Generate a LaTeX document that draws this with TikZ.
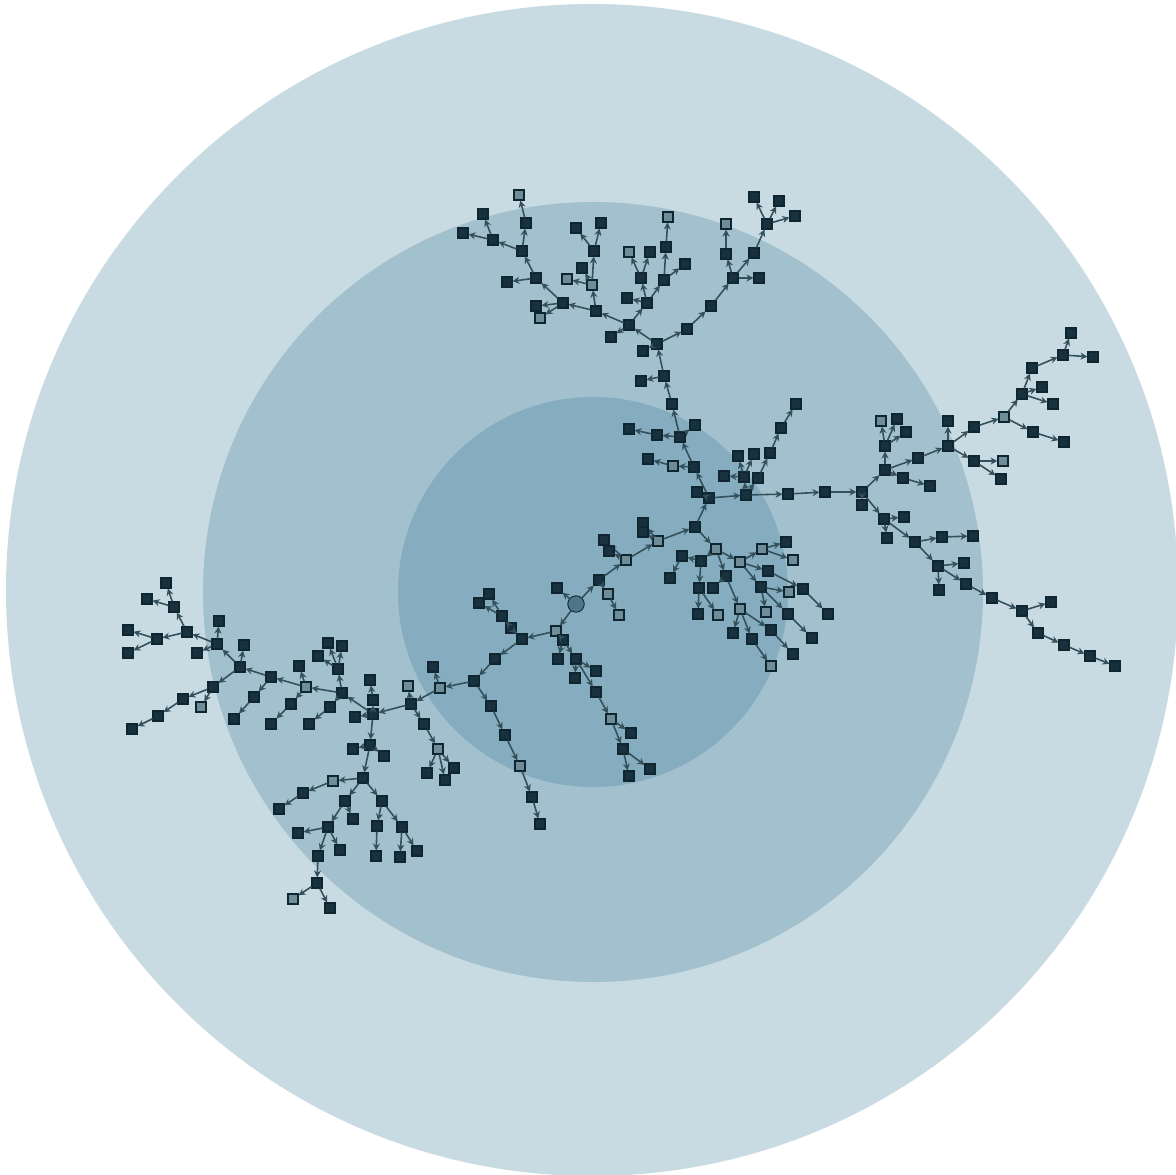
\documentclass[tikz,border=0pt]{standalone}
\usepackage{tikz}
\usetikzlibrary{arrows.meta}

\definecolor{ringout}{HTML}{C8DBE3}
\definecolor{ringmid}{HTML}{A2C0CD}
\definecolor{ringin}{HTML}{85ADBF}
\definecolor{dk}{HTML}{17323E}
\definecolor{gr}{HTML}{6E8D98}
\definecolor{nodeline}{HTML}{0F2630}
\definecolor{edgecol}{HTML}{34505B}
\definecolor{hubfill}{HTML}{4F7686}

\tikzset{
  sq/.style={rectangle,draw=nodeline,line width=0.6pt,minimum size=0.2cm,inner sep=0pt},
  hub/.style={circle,draw=nodeline,line width=0.5pt,fill=hubfill,minimum size=0.33cm,inner sep=0pt},
  edge/.style={draw=edgecol,line width=0.9pt,-{Stealth[length=4pt,width=4pt]}}
}

\begin{document}
\begin{tikzpicture}[x=0.02cm,y=-0.02cm]

	\useasboundingbox (0,0) rectangle (1176,1175);
	\fill[white] (0,0) rectangle (1176,1175);

	\fill[ringout] (592,590) circle (586);
	\fill[ringmid] (593,592) circle (390);
	\fill[ringin] (593,592) circle (195);

	\node[hub] (root) at (576,604) {};

	% centre, going up to the right
	\foreach \n/\x/\y/\p/\s in {c1/599/580/root/dk, c2/557/588/root/dk, c3/608/594/c1/gr, c4/619/615/c3/gr,
		c5/626/560/c1/gr, c6/604/540/c5/dk, c7/609/551/c5/dk, c8/658/541/c5/gr, c9/643/523/c8/dk,
		c10/643/532/c8/dk, c11/695/527/c8/dk, c12/709/498/c11/dk, c13/697/492/c12/dk, c14/746/495/c12/dk}
	{
		\node[sq,fill=\s] (\n) at (\x,\y) {};
		\draw[edge] (\p) -- (\n);
	}

	% cluster below c11
	\foreach \n/\x/\y/\p/\s in {k1/716/549/c11/gr, k2/701/561/k1/dk, k3/682/556/k2/dk, k4/670/578/k3/dk,
		k5/699/588/k2/dk, k6/698/614/k5/dk, k7/718/615/k5/gr, k8/726/576/k1/dk, k9/713/588/k8/dk,
		k10/740/609/k8/gr, k11/733/633/k10/dk, k12/752/639/k10/dk, k13/771/666/k12/gr, k14/771/630/k10/dk,
		k15/793/654/k14/dk, k16/740/562/k1/gr, k17/762/549/k16/gr, k18/786/542/k17/dk, k19/793/560/k17/gr,
		k20/768/571/k16/dk, k21/803/589/k20/dk, k22/828/614/k21/dk, k23/761/587/k16/dk, k24/789/592/k23/gr,
		k25/766/612/k23/gr, k26/788/614/k23/dk, k27/812/638/k26/dk}
	{
		\node[sq,fill=\s] (\n) at (\x,\y) {};
		\draw[edge] (\p) -- (\n);
	}

	% main stem to the top
	\foreach \n/\x/\y/\p/\s in {m1/694/467/c12/dk, m2/673/466/m1/gr, m3/648/459/m2/dk, m4/680/437/m1/dk,
		m5/695/425/m4/dk, m6/657/435/m4/dk, m7/629/429/m6/dk, m8/672/404/m4/dk, m9/664/376/m8/dk,
		m10/641/381/m9/dk, m11/657/344/m9/dk, m12/643/351/m11/dk, m13/629/325/m11/dk, m14/687/329/m11/dk}
	{
		\node[sq,fill=\s] (\n) at (\x,\y) {};
		\draw[edge] (\p) -- (\n);
	}

	\foreach \n/\x/\y/\p/\s in {e1/744/477/c14/dk, e2/724/476/e1/dk, e3/738/456/e1/dk, e4/754/454/e1/dk,
		e5/758/478/c14/dk, e6/770/453/e5/dk, e7/781/428/e6/dk, e8/796/404/e7/dk,
		e9/788/494/c14/dk, e10/825/492/e9/dk, e11/862/492/e10/dk}
	{
		\node[sq,fill=\s] (\n) at (\x,\y) {};
		\draw[edge] (\p) -- (\n);
	}

	% right side
	\foreach \n/\x/\y/\p/\s in {r1/862/505/e11/dk, r2/885/470/e11/dk, r3/885/446/r2/dk, r4/881/421/r3/gr,
		r5/897/419/r3/dk, r6/906/432/r3/dk, r7/903/478/r2/dk, r8/930/486/r7/dk, r9/918/458/r2/dk,
		r10/948/446/r9/dk, r11/948/421/r10/dk, r12/974/427/r10/dk, r13/1004/417/r12/gr, r14/1022/394/r13/dk,
		r15/1032/368/r14/dk, r16/1063/355/r15/dk, r17/1071/333/r16/dk, r18/1093/357/r16/dk, r19/1042/387/r14/dk,
		r20/1053/404/r14/dk, r21/1033/432/r13/dk, r22/1064/442/r21/dk, r23/974/461/r10/dk, r24/1003/461/r23/gr,
		r25/1001/479/r23/dk,
		s1/884/519/e11/dk, s2/904/517/s1/dk, s3/887/538/s1/dk, s4/915/542/s1/dk, s5/942/537/s4/dk,
		s6/973/536/s5/dk, s7/938/566/s4/dk, s8/964/563/s7/dk, s9/939/590/s7/dk, s10/966/584/s7/dk,
		s11/992/598/s10/dk, s12/1022/611/s11/dk, s13/1051/602/s12/dk, s14/1038/633/s12/dk,
		s15/1064/645/s14/dk, s16/1090/656/s15/dk, s17/1115/666/s16/dk}
	{
		\node[sq,fill=\s] (\n) at (\x,\y) {};
		\draw[edge] (\p) -- (\n);
	}

	% top clusters
	\foreach \n/\x/\y/\p/\s in {t1/596/311/m13/dk, t2/563/303/t1/dk, t3/536/278/t2/dk, t4/522/251/t3/dk,
		t5/526/223/t4/dk, t6/519/195/t5/gr, t7/493/240/t4/dk, t8/483/214/t7/dk, t9/463/233/t7/dk,
		t10/507/282/t3/dk, t11/536/306/t2/dk, t12/540/318/t2/gr, t13/592/285/t1/gr, t14/594/251/t13/dk,
		t15/576/228/t14/dk, t16/601/223/t14/dk, t17/582/268/t13/dk, t18/567/279/t13/gr, t19/611/337/m13/dk,
		t20/647/303/m13/dk, t21/627/298/t20/dk, t22/641/278/t20/dk, t23/629/252/t22/gr, t24/650/252/t22/dk,
		t25/664/280/t20/dk, t26/666/247/t25/dk, t27/668/217/t26/gr, t28/685/264/t25/dk,
		w1/711/306/m14/dk, w2/733/278/w1/dk, w3/759/278/w2/dk, w4/726/254/w2/dk, w5/726/224/w4/gr,
		w6/754/253/w2/dk, w7/767/224/w6/dk, w8/754/197/w7/dk, w9/779/201/w7/dk, w10/795/216/w7/dk}
	{
		\node[sq,fill=\s] (\n) at (\x,\y) {};
		\draw[edge] (\p) -- (\n);
	}

	% left of the root
	\foreach \n/\x/\y/\p/\s in {l1/556/631/root/gr, l2/563/640/l1/dk, l3/558/659/l2/dk, l4/576/659/l2/dk,
		l5/596/671/l4/dk, l6/575/678/l4/dk, l7/596/692/l4/dk, l8/611/719/l7/gr, l9/631/733/l8/dk,
		l10/623/749/l8/dk, l11/650/769/l10/dk, l12/629/776/l10/dk, l13/522/639/l1/dk, l14/511/628/l13/dk,
		l15/502/616/l14/dk, l16/489/594/l15/dk, l17/479/603/l15/dk, l18/495/659/l13/dk, l19/474/681/l18/dk,
		l20/491/706/l19/dk, l21/505/735/l20/dk, l22/520/766/l21/gr, l23/532/797/l22/dk, l24/540/824/l23/dk,
		p1/440/688/l19/gr, p2/433/667/p1/dk, p3/411/704/p1/dk, p4/408/686/p3/gr, p5/424/724/p3/dk,
		p6/438/749/p5/gr, p7/427/773/p6/dk, p8/445/780/p6/dk, p9/454/768/p6/dk, p10/373/714/p3/dk,
		p11/373/700/p10/dk, p12/370/680/p11/dk, p13/355/717/p10/dk, p14/342/693/p10/dk}
	{
		\node[sq,fill=\s] (\n) at (\x,\y) {};
		\draw[edge] (\p) -- (\n);
	}

	% far left
	\foreach \n/\x/\y/\p/\s in {q1/338/669/p14/dk, q2/328/643/q1/dk, q3/342/646/q1/dk, q4/318/656/q1/dk,
		q5/330/707/p14/dk, q6/309/724/q5/dk, q7/306/687/p14/gr, q8/299/666/q7/dk, q9/291/704/q7/dk,
		q10/271/724/q9/dk, q11/271/677/q7/dk, q12/254/697/q11/dk, q13/234/719/q12/dk, q14/240/667/q11/dk,
		q15/244/645/q14/dk, q16/217/644/q14/dk, q17/219/621/q16/dk, q18/197/653/q16/dk, q19/187/632/q16/dk,
		q20/174/607/q19/dk, q21/166/583/q20/dk, q22/147/599/q20/dk, q23/157/639/q19/dk, q24/128/630/q23/dk,
		q25/128/653/q23/dk, q26/213/687/q14/dk, q27/201/707/q26/gr, q28/183/699/q26/dk, q29/158/716/q28/dk,
		q30/132/729/q29/dk}
	{
		\node[sq,fill=\s] (\n) at (\x,\y) {};
		\draw[edge] (\p) -- (\n);
	}

	% bottom left
	\foreach \n/\x/\y/\p/\s in {b1/370/745/p10/dk, b2/353/749/b1/dk, b3/384/756/b1/dk, b4/363/778/b1/dk,
		b5/333/781/b4/gr, b6/303/793/b5/dk, b7/279/809/b6/dk, b8/345/801/b4/dk, b9/353/819/b8/dk,
		b10/328/827/b8/dk, b11/298/833/b10/dk, b12/340/850/b10/dk, b13/318/856/b10/dk, b14/317/883/b13/dk,
		b15/293/899/b14/gr, b16/330/908/b14/dk, b17/382/801/b4/dk, b18/377/826/b17/dk, b19/376/856/b18/dk,
		b20/402/827/b17/dk, b21/400/857/b20/dk, b22/417/851/b20/dk}
	{
		\node[sq,fill=\s] (\n) at (\x,\y) {};
		\draw[edge] (\p) -- (\n);
	}

\end{tikzpicture}
\end{document}
